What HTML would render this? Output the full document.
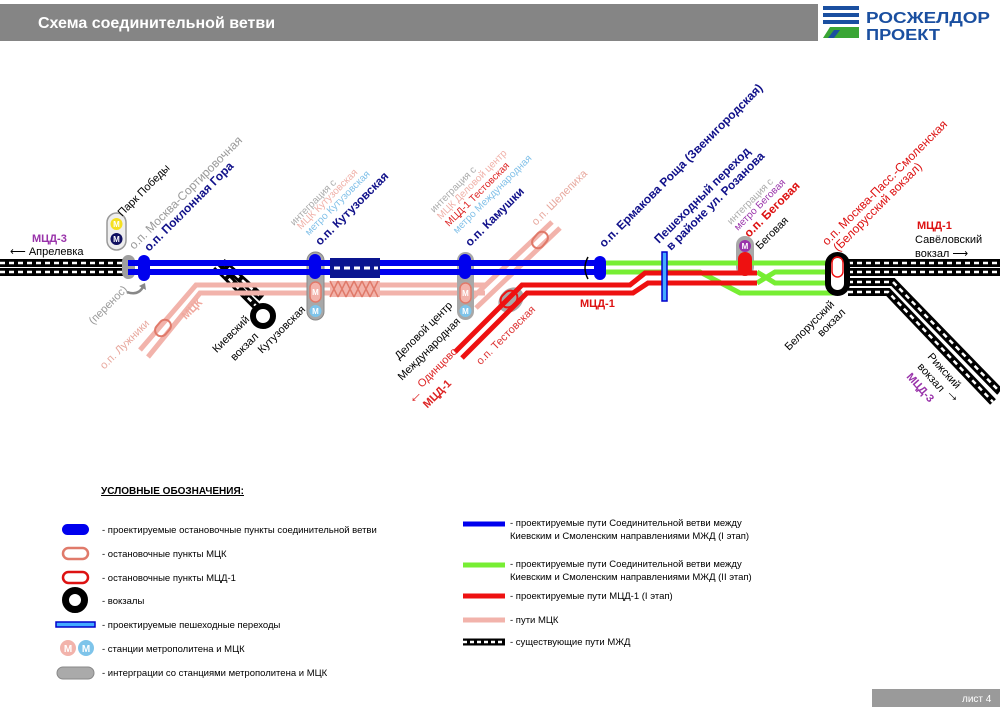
<!DOCTYPE html>
<html><head><meta charset="utf-8"><style>
html,body{margin:0;padding:0;background:#fff;}
svg{display:block;font-family:"Liberation Sans",sans-serif;}
</style></head><body>
<svg width="1000" height="707" viewBox="0 0 1000 707" xmlns="http://www.w3.org/2000/svg">
<!-- header -->
<rect x="0" y="4" width="818" height="37" fill="#858585"/>
<text x="38" y="28" fill="#fff" font-size="16" font-weight="bold">Схема соединительной ветви</text>
<g>
<rect x="823" y="6" width="36" height="4" fill="#1a4fa0"/>
<rect x="823" y="13" width="36" height="4" fill="#1a4fa0"/>
<rect x="823" y="20" width="36" height="4" fill="#1a4fa0"/>
<polygon points="830,27 859,27 859,38 823,38" fill="#3aa535"/>
<polygon points="828,38 834,30 840,30 834,38" fill="#1a4fa0"/>
<text x="866" y="23" fill="#1a4fa0" font-size="16" font-weight="bold" textLength="124" lengthAdjust="spacingAndGlyphs">РОСЖЕЛДОР</text>
<text x="866" y="40" fill="#1a4fa0" font-size="16" font-weight="bold" textLength="74" lengthAdjust="spacingAndGlyphs">ПРОЕКТ</text>
</g>

<!-- existing railways -->
<g fill="none">
<path d="M0 263H125M0 272H125M848 263H1000M848 272H1000M848 282H893L1000 392M848 292H888L993 402M216 266L258 308M222 262L262 298" stroke="#000" stroke-width="8"/>
<path d="M0 263H125M0 272H125M848 263H1000M848 272H1000M848 282H893L1000 392M848 292H888L993 402M216 266L258 308M222 262L262 298" stroke="#fff" stroke-width="2.5" stroke-dasharray="5 4"/>
</g>

<!-- MCK pink -->
<g fill="none" stroke="#f2b3ab" stroke-width="5">
<path d="M140 350L196 285H485"/>
<path d="M148 357L200 293H485"/>
<path d="M468 302L552 222"/>
<path d="M476 308L560 228"/>
</g>
<circle cx="263" cy="316" r="10" fill="none" stroke="#000" stroke-width="6"/>

<!-- gray integrations (behind) -->
<rect x="122" y="255" width="13" height="24" rx="6.5" fill="#a0a0a0"/>
<rect x="307" y="252" width="17" height="68" rx="8.5" fill="#a8a8a8" stroke="#888" stroke-width="1"/>
<rect x="457" y="252" width="17" height="68" rx="8.5" fill="#a8a8a8"/>
<ellipse cx="511" cy="300" rx="14" ry="11" transform="rotate(-45 511 300)" fill="#a8a8a8"/>
<rect x="736" y="236" width="18" height="40" rx="9" fill="#a8a8a8"/>

<!-- blue tracks -->
<path d="M128 263H600M128 272H600" stroke="#0000ee" stroke-width="6" fill="none"/>
<!-- green -->
<g fill="none" stroke="#77ee33" stroke-width="5">
<path d="M606 263H838"/>
<path d="M606 272H700L740 293H838"/>
<path d="M757 272L775 283H838"/>
<path d="M757 283L775 272H838"/>
</g>
<!-- red MCD-1 -->
<g fill="none" stroke="#ee1111" stroke-width="5">
<path d="M455 352L522 285H630L645 273H757"/>
<path d="M462 358L527 293H633L648 283H757"/>
</g>

<!-- Kutuzovskaya hatch blocks -->
<rect x="330" y="258" width="50" height="20" fill="#0a1590"/>
<path d="M334 268H378" stroke="#fff" stroke-width="3" stroke-dasharray="6 4"/>
<rect x="330" y="281" width="50" height="16" fill="#f2b3ab"/>
<path d="M330 281L338 297M338 281L346 297M346 281L354 297M354 281L362 297M362 281L370 297M370 281L378 297M338 281L330 297M346 281L338 297M354 281L346 297M362 281L354 297M370 281L362 297M378 281L370 297" stroke="#e07a6a" stroke-width="1.5"/>

<!-- stations -->
<rect x="138" y="255" width="12" height="26" rx="6" fill="#0000ee"/>
<rect x="309" y="254" width="12" height="25" rx="6" fill="#0000ee"/>
<rect x="459" y="254" width="12" height="25" rx="6" fill="#0000ee"/>
<rect x="594" y="256" width="12" height="24" rx="6" fill="#0000ee"/>
<path d="M588 257Q582 268 588 279" stroke="#000" fill="none" stroke-width="1.5"/>
<rect x="738" y="252" width="14" height="24" rx="7" fill="#ee1111"/>
<rect x="310" y="282" width="11" height="20" rx="5.5" fill="#f2b3ab" stroke="#e07a6a" stroke-width="1.5"/>
<rect x="460" y="283" width="11" height="20" rx="5.5" fill="#f2b3ab" stroke="#e07a6a" stroke-width="1.5"/>
<rect x="154" y="322" width="18" height="12" rx="6" transform="rotate(-50 163 328)" fill="none" stroke="#e07a6a" stroke-width="2"/>
<rect x="531" y="234" width="18" height="12" rx="6" transform="rotate(-50 540 240)" fill="none" stroke="#e07a6a" stroke-width="2"/>
<rect x="500" y="292" width="18" height="14" rx="7" transform="rotate(-45 509 299)" fill="none" stroke="#ee1111" stroke-width="2"/>
<!-- Belarus vokzal -->
<rect x="828" y="255" width="19" height="38" rx="9.5" fill="#fff" stroke="#000" stroke-width="6"/>
<rect x="832" y="257" width="11" height="20" rx="5.5" fill="none" stroke="#ee1111" stroke-width="1.5"/>
<!-- pedestrian -->
<rect x="662" y="252" width="5" height="49" fill="#44aaff" stroke="#0000cc" stroke-width="1.5"/>

<!-- metro icons -->
<rect x="107" y="213" width="19" height="37" rx="9.5" fill="#eee" stroke="#999" stroke-width="1.5"/>
<circle cx="116.5" cy="224" r="6" fill="#f5e020"/><text x="116.5" y="227" font-size="8" font-weight="bold" fill="#fff" text-anchor="middle">M</text>
<circle cx="116.5" cy="239" r="6" fill="#101060"/><text x="116.5" y="242" font-size="8" font-weight="bold" fill="#fff" text-anchor="middle">M</text>
<circle cx="315.5" cy="311" r="6" fill="#7ec4ea"/><text x="315.5" y="314" font-size="8" font-weight="bold" fill="#fff" text-anchor="middle">M</text>
<text x="315.5" y="295" font-size="8" font-weight="bold" fill="#fff" text-anchor="middle">M</text>
<circle cx="465.5" cy="311" r="6" fill="#7ec4ea"/><text x="465.5" y="314" font-size="8" font-weight="bold" fill="#fff" text-anchor="middle">M</text>
<text x="465.5" y="296" font-size="8" font-weight="bold" fill="#fff" text-anchor="middle">M</text>
<circle cx="745" cy="246" r="6" fill="#9933aa"/><text x="745" y="249" font-size="8" font-weight="bold" fill="#fff" text-anchor="middle">M</text>

<!-- perenos arrow -->
<path d="M127 292Q138 296 143 287" stroke="#888" stroke-width="2.5" fill="none"/>
<path d="M139 286L145 283L146 290Z" fill="#888"/>

<!-- rotated labels -->
<g font-size="11">
<text transform="translate(122,217) rotate(-45)">Парк Победы</text>
<text transform="translate(134,250) rotate(-45)" fill="#999" font-size="12">о.п. Москва-Сортировочная</text>
<text transform="translate(149,252) rotate(-45)" fill="#11118a" font-weight="bold" font-size="12">о.п. Поклонная Гора</text>
<text transform="translate(128,290) rotate(-45)" fill="#999" text-anchor="end">(перенос)</text>
<text transform="translate(150,324) rotate(-45)" fill="#e8a89e" text-anchor="end">о.п. Лужники</text>
<text transform="translate(186,320) rotate(-45)" fill="#f0a89e" font-weight="bold">МЦК</text>
<text transform="translate(250,320) rotate(-45)" text-anchor="end">Киевский</text>
<text transform="translate(259,337) rotate(-45)" text-anchor="end">вокзал</text>
<text transform="translate(306,310) rotate(-45)" text-anchor="end">Кутузовская</text>
<text transform="translate(294,226) rotate(-45)" fill="#aaa" font-size="10">интеграция с</text>
<text transform="translate(301,230) rotate(-45)" fill="#f0b0a8" font-size="10">МЦК Кутузовская</text>
<text transform="translate(309,236) rotate(-45)" fill="#80c0e8" font-size="10">метро Кутузовская</text>
<text transform="translate(320,246) rotate(-45)" fill="#11118a" font-weight="bold" font-size="12">о.п. Кутузовская</text>
<text transform="translate(434,213) rotate(-45)" fill="#aaa" font-size="10">интеграция с</text>
<text transform="translate(441,220) rotate(-45)" fill="#f0b0a8" font-size="10">МЦК Деловой центр</text>
<text transform="translate(449,227) rotate(-45)" fill="#dd2222" font-size="10">МЦД-1 Тестовская</text>
<text transform="translate(457,234) rotate(-45)" fill="#80c0e8" font-size="10">метро Международная</text>
<text transform="translate(470,247) rotate(-45)" fill="#11118a" font-weight="bold" font-size="12">о.п. Камушки</text>
<text transform="translate(453,306) rotate(-45)" text-anchor="end">Деловой центр</text>
<text transform="translate(461,322) rotate(-45)" text-anchor="end">Международная</text>
<text transform="translate(458,352) rotate(-45)" fill="#dd2222" text-anchor="end">Одинцово</text>
<text transform="translate(452,384) rotate(-45)" fill="#dd2222" font-weight="bold" text-anchor="end">МЦД-1</text>
<text transform="translate(536,310) rotate(-45)" fill="#dd3333" text-anchor="end">о.п. Тестовская</text>
<text transform="translate(536,226) rotate(-45)" fill="#e8a89e">о.п. Шелепиха</text>
<text transform="translate(604,248) rotate(-45)" fill="#11118a" font-weight="bold" font-size="12">о.п. Ермакова Роща (Звенигородская)</text>
<text transform="translate(659,244) rotate(-45)" fill="#11118a" font-weight="bold" font-size="12">Пешеходный переход</text>
<text transform="translate(671,251) rotate(-45)" fill="#11118a" font-weight="bold" font-size="12">в районе ул. Розанова</text>
<text transform="translate(731,225) rotate(-45)" fill="#aaa" font-size="10">интеграция с</text>
<text transform="translate(738,231) rotate(-45)" fill="#9933aa" font-size="10">метро Беговая</text>
<text transform="translate(749,238) rotate(-45)" fill="#dd1111" font-weight="bold" font-size="12">о.п. Беговая</text>
<text transform="translate(760,250) rotate(-45)">Беговая</text>
<text transform="translate(827,246) rotate(-45)" fill="#dd1111" font-size="12">о.п. Москва-Пасс.-Смоленская</text>
<text transform="translate(838,252) rotate(-45)" fill="#dd1111" font-size="12">(Белорусский вокзал)</text>
<text transform="translate(835,305) rotate(-45)" text-anchor="end">Белорусский</text>
<text transform="translate(846,313) rotate(-45)" text-anchor="end">вокзал</text>
<text transform="translate(927,357) rotate(48)">Рижский</text>
<text transform="translate(917,367) rotate(48)">вокзал</text>
<text transform="translate(906,377) rotate(48)" fill="#9933aa" font-weight="bold">МЦД-3</text>
</g>
<text x="408" y="405" fill="#dd2222" font-size="16" font-weight="bold" transform="rotate(-45 410 400)">←</text>
<text x="946" y="398" font-size="16" font-weight="bold" transform="rotate(45 952 394)">→</text>

<!-- horizontal labels -->
<g font-size="11">
<text x="580" y="307" fill="#dd1111" font-weight="bold">МЦД-1</text>
<text x="32" y="242" fill="#9933aa" font-weight="bold">МЦД-3</text>
<text x="10" y="255">⟵ Апрелевка</text>
<text x="917" y="229" fill="#dd1111" font-weight="bold">МЦД-1</text>
<text x="915" y="243">Савёловский</text>
<text x="915" y="257">вокзал ⟶</text>
</g>

<!-- legend -->
<g font-size="9.5">
<text x="101" y="494" font-weight="bold" font-size="10" text-decoration="underline">УСЛОВНЫЕ ОБОЗНАЧЕНИЯ:</text>
<rect x="62" y="524" width="27" height="11" rx="5.5" fill="#0000ee"/>
<text x="102" y="533">- проектируемые остановочные пункты соединительной ветви</text>
<rect x="63" y="548" width="25" height="11" rx="5.5" fill="none" stroke="#e07a6a" stroke-width="2.5"/>
<text x="102" y="557">- остановочные пункты МЦК</text>
<rect x="63" y="572" width="25" height="11" rx="5.5" fill="none" stroke="#dd1111" stroke-width="2.5"/>
<text x="102" y="581">- остановочные пункты МЦД-1</text>
<circle cx="75" cy="600" r="9.5" fill="none" stroke="#000" stroke-width="7"/>
<text x="102" y="604">- вокзалы</text>
<rect x="56" y="622" width="39" height="5" fill="#44aaff" stroke="#0000cc" stroke-width="1.5"/>
<text x="102" y="628">- проектируемые пешеходные переходы</text>
<circle cx="68" cy="648" r="8" fill="#f2b3ab"/><text x="68" y="652" fill="#fff" font-size="10" font-weight="bold" text-anchor="middle">M</text>
<circle cx="86" cy="648" r="8" fill="#7ec4ea"/><text x="86" y="652" fill="#fff" font-size="10" font-weight="bold" text-anchor="middle">M</text>
<text x="102" y="652">- станции метрополитена и МЦК</text>
<rect x="57" y="667" width="37" height="12" rx="6" fill="#aaa" stroke="#888"/>
<text x="102" y="676">- интерграции со станциями метрополитена и МЦК</text>

<path d="M463 524H505" stroke="#0000ee" stroke-width="5"/>
<text x="510" y="526">- проектируемые пути Соединительной ветви между</text>
<text x="510" y="539">Киевским и Смоленским направлениями МЖД (I этап)</text>
<path d="M463 565H505" stroke="#77ee33" stroke-width="5"/>
<text x="510" y="567">- проектируемые пути Соединительной ветви между</text>
<text x="510" y="580">Киевским и Смоленским направлениями МЖД (II этап)</text>
<path d="M463 596H505" stroke="#ee1111" stroke-width="5"/>
<text x="510" y="599">- проектируемые пути МЦД-1 (I этап)</text>
<path d="M463 620H505" stroke="#f2b3ab" stroke-width="5"/>
<text x="510" y="623">- пути МЦК</text>
<path d="M463 642H505" stroke="#000" stroke-width="7"/>
<path d="M463 642H505" stroke="#fff" stroke-width="2.5" stroke-dasharray="4 3"/>
<text x="510" y="645">- существующие пути МЖД</text>
</g>

<!-- footer -->
<rect x="872" y="689" width="128" height="18" fill="#9a9a9a"/>
<text x="962" y="702" fill="#fff" font-size="10">лист 4</text>
</svg>
</body></html>
